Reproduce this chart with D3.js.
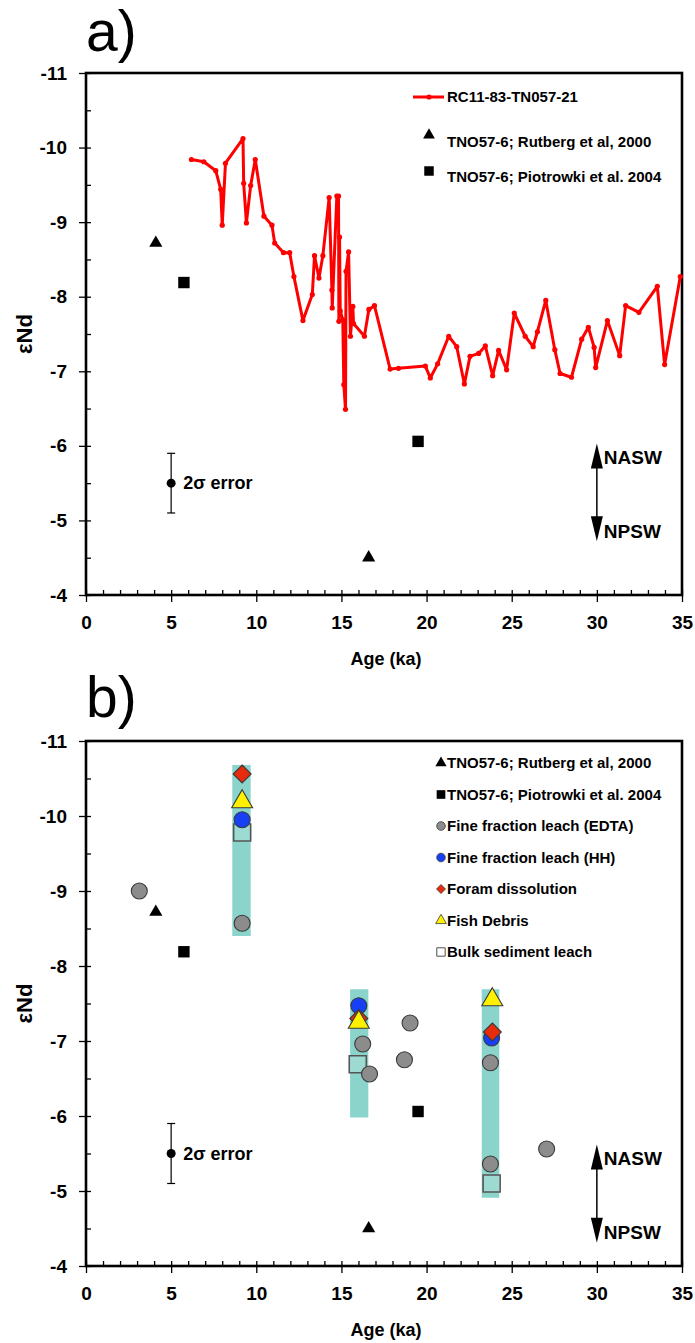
<!DOCTYPE html>
<html>
<head>
<meta charset="utf-8">
<script src="https://cdn.jsdelivr.net/npm/d3@7"></script>
<style>
  body { margin: 0; background: white; }
  text { font-family: Arial, "Liberation Sans", sans-serif; }
</style>
</head>
<body>
<div id="chart"></div>
<script>
// RC11-83-TN057-21 record (panel a)
const redAge = [6.19, 6.92, 7.62, 7.91, 8.00, 8.19, 9.22, 9.26, 9.42, 9.67, 9.94, 10.45, 10.92, 11.08, 11.60, 11.96,
  12.21, 12.74, 13.29, 13.42, 13.68, 13.91, 14.28, 14.44, 14.46, 14.73, 14.83, 14.85, 14.89, 14.93, 15.08, 15.14,
  15.24, 15.27, 15.42, 15.53, 15.67, 15.71, 16.35, 16.61, 16.94, 17.86, 18.35, 19.93, 20.22, 20.65, 21.30, 21.77,
  22.22, 22.55, 23.06, 23.45, 23.88, 24.23, 24.70, 25.15, 25.79, 26.26, 26.51, 27.00, 27.53, 27.84, 28.51, 29.11,
  29.50, 29.84, 29.93, 30.62, 31.34, 31.69, 32.47, 33.55, 33.98, 34.90];
const redNd = [-9.84, -9.81, -9.69, -9.44, -8.96, -9.79, -10.12, -9.52, -8.99, -9.49, -9.84, -9.08, -8.96, -8.72, -8.59, -8.59,
  -8.27, -7.68, -8.03, -8.55, -8.25, -8.55, -9.33, -8.09, -7.85, -9.35, -9.35, -7.67, -8.80, -7.81, -7.69, -6.82,
  -6.49, -8.34, -8.60, -7.47, -7.87, -7.64, -7.47, -7.83, -7.88, -7.03, -7.04, -7.07, -6.91, -7.10, -7.47, -7.33,
  -6.83, -7.20, -7.24, -7.34, -6.94, -7.28, -7.02, -7.78, -7.47, -7.33, -7.53, -7.95, -7.29, -6.97, -6.92, -7.43,
  -7.59, -7.32, -7.05, -7.68, -7.21, -7.88, -7.79, -8.14, -7.09, -8.27];

// TNO57-6 published values (both panels)
const rutbergAge = [4.1, 16.6];
const rutbergNd = [-8.72, -4.5];
const piotrowskiAge = [5.75, 19.5];
const piotrowskiNd = [-8.19, -6.06];

// panel b
const bandAge0 = [8.59, 15.51, 23.24];
const bandAge1 = [9.67, 16.58, 24.27];
const bandTop = [-10.68, -7.69, -7.69];
const bandBottom = [-8.40, -5.98, -4.91];

const edtaAge = [3.13, 9.17, 16.25, 16.65, 18.7, 19.03, 23.75, 23.75, 27.05];
const edtaNd = [-9.0, -8.57, -6.96, -6.56, -6.75, -7.24, -6.71, -5.36, -5.56];
const hhAge = [9.17, 16.02, 23.82];
const hhNd = [-9.95, -7.47, -7.04];
const foramAge = [9.17, 16.02, 23.86];
const foramNd = [-10.56, -7.30, -7.12];
const fishAge = [9.17, 16.02, 23.86];
const fishNd = [-10.19, -7.25, -7.55];
const bulkAge = [9.17, 15.96, 23.82];
const bulkNd = [-9.78, -6.69, -5.10];

const xTicks = [0, 5, 10, 15, 20, 25, 30, 35];
const yTicks = [-11, -10, -9, -8, -7, -6, -5, -4];

const width = 695, height = 1343;

const svg = d3.select('#chart')
              .append('svg')
              .attr('width', width)
              .attr('height', height)
              .style('background', 'white');

const x = d3.scaleLinear().domain([0, 35]).range([86, 682]);
const yA = d3.scaleLinear().domain([-11, -4]).range([73, 595]);
const yB = d3.scaleLinear().domain([-11, -4]).range([741, 1266]);

// plain hyphen minus, like the original figure
const fmt = d => String(d);

function drawAxes(y, panelLabel, labelBaseline) {
  const top = y(-11), bottom = y(-4);

  // minor ticks pointing inside
  svg.append('g')
     .attr('transform', `translate(0,${bottom})`)
     .call(d3.axisBottom(x).tickValues(d3.range(0, 35.01, 1)).tickSize(-5).tickFormat(''))
     .call(g => g.select('.domain').remove());
  svg.append('g')
     .attr('transform', `translate(${x(0)},0)`)
     .call(d3.axisLeft(y).tickValues(d3.range(-11, -3.99, 0.5)).tickSize(-5).tickFormat(''))
     .call(g => g.select('.domain').remove());

  // major ticks + labels
  let xa = svg.append('g')
     .attr('transform', `translate(0,${bottom})`)
     .call(d3.axisBottom(x).tickValues(xTicks).tickSize(7).tickPadding(14).tickFormat(fmt));
  xa.select('.domain').remove();
  xa.selectAll('text').attr('font-size', 19).attr('font-weight', 'bold').attr('font-family', 'Arial, "Liberation Sans", sans-serif');

  let ya = svg.append('g')
     .attr('transform', `translate(${x(0)},0)`)
     .call(d3.axisLeft(y).tickValues(yTicks).tickSize(7).tickPadding(12).tickFormat(fmt));
  ya.select('.domain').remove();
  ya.selectAll('text').attr('font-size', 19).attr('font-weight', 'bold').attr('font-family', 'Arial, "Liberation Sans", sans-serif');
  svg.selectAll('.tick line').attr('stroke-width', 1.3);

  // frame
  svg.append('rect')
     .attr('x', x(0)).attr('y', top)
     .attr('width', x(35) - x(0)).attr('height', bottom - top)
     .attr('fill', 'none').attr('stroke', 'black').attr('stroke-width', 2.6);

  svg.append('text')
     .attr('x', (x(0) + x(35)) / 2 + 2)
     .attr('y', bottom + 70)
     .attr('text-anchor', 'middle')
     .attr('font-size', 18)
     .attr('font-weight', 'bold')
     .text('Age (ka)');

  svg.append('text')
     .attr('transform', `translate(32,${(top + bottom) / 2}) rotate(-90)`)
     .attr('text-anchor', 'middle')
     .attr('font-size', 22)
     .attr('font-weight', 'bold')
     .text('εNd');

  svg.append('text')
     .attr('x', 86)
     .attr('y', labelBaseline)
     .attr('font-size', 57)
     .text(panelLabel);

  // 2 sigma error bar
  const ex = x(5);
  const eb = svg.append('g');
  eb.append('line').attr('x1', ex).attr('x2', ex).attr('y1', y(-5.9)).attr('y2', y(-5.1)).attr('stroke', 'black').attr('stroke-width', 1.2);
  [-5.9, -5.1].forEach(v => {
    eb.append('line').attr('x1', ex - 4).attr('x2', ex + 4).attr('y1', y(v)).attr('y2', y(v)).attr('stroke', 'black').attr('stroke-width', 1.2);
  });
  eb.append('circle').attr('cx', ex).attr('cy', y(-5.5)).attr('r', 4.5).attr('fill', 'black');
  eb.append('text').attr('x', ex + 12).attr('y', y(-5.5)).attr('dy', '0.35em')
    .attr('font-size', 18).attr('font-weight', 'bold').text('2σ error');
}

function drawArrow(y, v0, v1) {
  const ax = x(30);
  const y0 = y(v0), y1 = y(v1);
  svg.append('line').attr('x1', ax).attr('x2', ax).attr('y1', y0 + 10).attr('y2', y1 - 10)
     .attr('stroke', 'black').attr('stroke-width', 1.5);
  svg.append('path').attr('d', `M${ax},${y0} L${ax - 6},${y0 + 25} L${ax + 6},${y0 + 25} Z`).attr('fill', 'black');
  svg.append('path').attr('d', `M${ax},${y1} L${ax - 6},${y1 - 25} L${ax + 6},${y1 - 25} Z`).attr('fill', 'black');
  svg.append('text').attr('x', ax + 7).attr('y', y0 + 14).attr('dy', '0.35em')
     .attr('font-size', 19).attr('font-weight', 'bold').text('NASW');
  svg.append('text').attr('x', ax + 7).attr('y', y1 - 10).attr('dy', '0.35em')
     .attr('font-size', 19).attr('font-weight', 'bold').text('NPSW');
}

const tri = d3.symbol().type(d3.symbolTriangle);
const sq = d3.symbol().type(d3.symbolSquare);
// square turned 45 degrees
const diamond = h => `M0,${-h}L${h},0L0,${h}L${-h},0Z`;

// ---------- panel a ----------
drawAxes(yA, 'a)', 51);

const redPts = redAge.map((a, i) => [a, redNd[i]]);
svg.append('path')
   .datum(redPts)
   .attr('d', d3.line().x(d => x(d[0])).y(d => yA(d[1])))
   .attr('fill', 'none')
   .attr('stroke', '#ff0000')
   .attr('stroke-width', 3)
   .attr('stroke-linejoin', 'round');
svg.selectAll('.reddot')
   .data(redPts)
   .enter()
   .append('circle')
   .attr('cx', d => x(d[0]))
   .attr('cy', d => yA(d[1]))
   .attr('r', 2.6)
   .attr('fill', '#ff0000');

rutbergAge.forEach((a, i) => {
  svg.append('path').attr('d', tri.size(75)()).attr('transform', `translate(${x(a)},${yA(rutbergNd[i])})`).attr('fill', 'black');
});
piotrowskiAge.forEach((a, i) => {
  svg.append('path').attr('d', sq.size(130)()).attr('transform', `translate(${x(a)},${yA(piotrowskiNd[i])})`).attr('fill', 'black');
});

drawArrow(yA, -6.03, -4.72);

// legend a
const legA = svg.append('g');
legA.append('line').attr('x1', 413).attr('x2', 444).attr('y1', 97).attr('y2', 97).attr('stroke', '#ff0000').attr('stroke-width', 3);
legA.append('circle').attr('cx', 429).attr('cy', 97).attr('r', 2.6).attr('fill', '#ff0000');
legA.append('path').attr('d', tri.size(60)()).attr('transform', 'translate(429,135)').attr('fill', 'black');
legA.append('path').attr('d', sq.size(90)()).attr('transform', 'translate(429,171)').attr('fill', 'black');
[['RC11-83-TN057-21', 97], ['TNO57-6; Rutberg et al, 2000', 142], ['TNO57-6; Piotrowki et al. 2004', 177]].forEach(d => {
  legA.append('text').attr('x', 447).attr('y', d[1]).attr('dy', '0.35em')
      .attr('font-size', 15).attr('font-weight', 'bold').text(d[0]);
});

// ---------- panel b ----------
drawAxes(yB, 'b)', 717);

bandAge0.forEach((a, i) => {
  svg.append('rect')
     .attr('x', x(a)).attr('width', x(bandAge1[i]) - x(a))
     .attr('y', yB(bandTop[i])).attr('height', yB(bandBottom[i]) - yB(bandTop[i]))
     .attr('fill', '#8bd4cb');
});

const mstroke = '#3a3a3a';
bulkAge.forEach((a, i) => {
  svg.append('path').attr('d', sq.size(290)()).attr('transform', `translate(${x(a)},${yB(bulkNd[i])})`)
     .attr('fill', 'white').attr('fill-opacity', 0.15).attr('stroke', '#555').attr('stroke-width', 1.6);
});
edtaAge.forEach((a, i) => {
  svg.append('circle').attr('cx', x(a)).attr('cy', yB(edtaNd[i])).attr('r', 8)
     .attr('fill', '#8c8c8c').attr('stroke', mstroke).attr('stroke-width', 1.1);
});
hhAge.forEach((a, i) => {
  svg.append('circle').attr('cx', x(a)).attr('cy', yB(hhNd[i])).attr('r', 8)
     .attr('fill', '#1740f5').attr('stroke', mstroke).attr('stroke-width', 1.1);
});
foramAge.forEach((a, i) => {
  svg.append('path').attr('d', diamond(9)).attr('transform', `translate(${x(a)},${yB(foramNd[i])})`)
     .attr('fill', '#e62c0c').attr('stroke', mstroke).attr('stroke-width', 1.1);
});
fishAge.forEach((a, i) => {
  svg.append('path').attr('d', tri.size(190)()).attr('transform', `translate(${x(a)},${yB(fishNd[i])})`)
     .attr('fill', '#fff000').attr('stroke', mstroke).attr('stroke-width', 1.1);
});
rutbergAge.forEach((a, i) => {
  svg.append('path').attr('d', tri.size(75)()).attr('transform', `translate(${x(a)},${yB(rutbergNd[i])})`).attr('fill', 'black');
});
piotrowskiAge.forEach((a, i) => {
  svg.append('path').attr('d', sq.size(130)()).attr('transform', `translate(${x(a)},${yB(piotrowskiNd[i])})`).attr('fill', 'black');
});

drawArrow(yB, -5.62, -4.31);

// legend b
const legB = svg.append('g');
const rows = [
  ['TNO57-6; Rutberg et al, 2000', g => g.append('path').attr('d', tri.size(55)()).attr('fill', 'black')],
  ['TNO57-6; Piotrowki et al. 2004', g => g.append('path').attr('d', sq.size(75)()).attr('fill', 'black')],
  ['Fine fraction leach (EDTA)', g => g.append('circle').attr('r', 4.3).attr('fill', '#8c8c8c').attr('stroke', mstroke).attr('stroke-width', 0.8)],
  ['Fine fraction leach (HH)', g => g.append('circle').attr('r', 4.3).attr('fill', '#1740f5').attr('stroke', mstroke).attr('stroke-width', 0.8)],
  ['Foram dissolution', g => g.append('path').attr('d', diamond(4.5)).attr('fill', '#e62c0c').attr('stroke', mstroke).attr('stroke-width', 0.8)],
  ['Fish Debris', g => g.append('path').attr('d', tri.size(50)()).attr('fill', '#fff000').attr('stroke', mstroke).attr('stroke-width', 0.8)],
  ['Bulk sediment leach', g => g.append('path').attr('d', sq.size(70)()).attr('fill', 'white').attr('stroke', mstroke).attr('stroke-width', 0.9)]
];
rows.forEach((r, i) => {
  const yy = 763 + i * 31.5;
  const mg = legB.append('g').attr('transform', `translate(441,${yy})`);
  r[1](mg);
  legB.append('text').attr('x', 447).attr('y', yy).attr('dy', '0.35em')
      .attr('font-size', 15).attr('font-weight', 'bold').text(r[0]);
});
</script>
</body>
</html>
